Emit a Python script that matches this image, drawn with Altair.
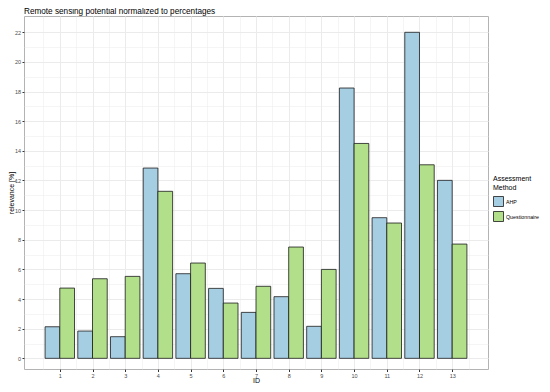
import altair as alt
import pandas as pd

ids = list(range(1, 14))
ahp = [2.13, 1.84, 1.46, 12.84, 5.71, 4.72, 3.10, 4.16, 2.16, 18.24, 9.49, 22.0, 12.01]
quest = [4.74, 5.37, 5.53, 11.27, 6.43, 3.73, 4.86, 7.51, 6.00, 14.50, 9.13, 13.06, 7.71]
methods = ["AHP", "Questionnaire"]
colors = ["#a6cee3", "#b2df8a"]
y_major = list(range(0, 23, 2))
y_minor = list(range(1, 23, 2))
x_major = ids
x_minor = [i + 0.5 for i in range(0, 14)]

rows = []
for i, a, q in zip(ids, ahp, quest):
    rows.append({"ID": i, "method": "AHP", "value": a})
    rows.append({"ID": i, "method": "Questionnaire", "value": q})
df = pd.DataFrame(rows)

W, H = 464, 353
xscale = alt.Scale(domain=[-0.095, 14.095], nice=False, zero=False)
yscale = alt.Scale(domain=[-0.72, 23.1], nice=False, zero=False)

grid_common = dict(labels=False, ticks=False, domain=False, title=None,
                   gridColor="#ebebeb")

base = alt.Chart(df)

minor = base.mark_point(opacity=0).encode(
    x=alt.X("ID:Q", scale=xscale,
            axis=alt.Axis(values=x_minor, gridWidth=0.5, orient="bottom", **grid_common)),
    y=alt.Y("value:Q", scale=yscale,
            axis=alt.Axis(values=y_minor, gridWidth=0.5, orient="left", **grid_common)),
)

bars = base.mark_rect(stroke="#1a1a1a", strokeWidth=0.8).transform_calculate(
    x0="datum.method == 'AHP' ? datum.ID - 0.45 : datum.ID",
    x1="datum.method == 'AHP' ? datum.ID : datum.ID + 0.45",
    y0="0",
).encode(
    x=alt.X("x0:Q", scale=xscale,
            axis=alt.Axis(values=x_major, title="ID", orient="bottom", grid=True,
                          gridColor="#ebebeb", gridWidth=1, domain=False,
                          tickColor="#333333", tickSize=2.5, labelFontSize=5.5,
                          labelColor="#4d4d4d", labelPadding=1.5, titleFontSize=7,
                          titleFontWeight="normal", titleColor="#000000",
                          titleX=W / 2, titleY=11.5, titleBaseline="middle",
                          titleAlign="center", format="d")),
    x2="x1:Q",
    y=alt.Y("y0:Q", scale=yscale,
            axis=alt.Axis(values=y_major, title="relevance [%]", orient="left", grid=True,
                          gridColor="#ebebeb", gridWidth=1, domain=False,
                          tickColor="#333333", tickSize=2, labelFontSize=5.5,
                          labelColor="#4d4d4d", labelPadding=1.5, titleFontSize=7,
                          titleFontWeight="normal", titleColor="#000000",
                          titleX=-12.5, titleY=H / 2, titleBaseline="middle",
                          titleAlign="center", titleAngle=270, format="d")),
    y2="value:Q",
    fill=alt.Fill("method:N", scale=alt.Scale(domain=methods, range=colors),
                  legend=alt.Legend(title=["Assessment", "Method"], orient="none",
                                    legendX=469, legendY=159, symbolType="square",
                                    symbolSize=100, symbolStrokeColor="#1a1a1a",
                                    symbolStrokeWidth=0.8, symbolOpacity=1,
                                    titleFontSize=7, titleFontWeight="normal",
                                    titleColor="#000000", labelFontSize=5.3,
                                    labelColor="#000000", rowPadding=0,
                                    titlePadding=5, labelOffset=2, padding=0)),
)

chart = alt.layer(minor, bars).resolve_axis(x="independent", y="independent").properties(
    width=W, height=H,
    padding={"left": 16, "top": 8, "right": 54, "bottom": 15},
    autosize=alt.AutoSizeParams(type="none"),
    title=alt.TitleParams("Remote sensing potential normalized to percentages",
                          anchor="start", frame="group", fontSize=8.2,
                          fontWeight="normal", color="#000000", offset=0),
).configure(font="Liberation Sans").configure_view(stroke="#b3b3b3", strokeWidth=1)

chart.save("out.html", embed_options={"renderer": "svg", "actions": False})
